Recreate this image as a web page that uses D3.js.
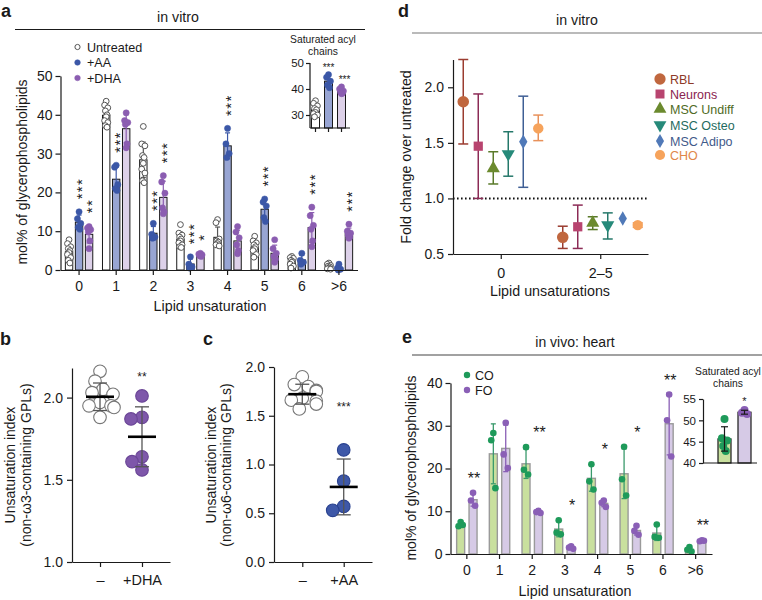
<!DOCTYPE html>
<html><head><meta charset="utf-8">
<script src="https://cdn.jsdelivr.net/npm/d3@7"></script>
<style>
body{margin:0;background:#fff}
svg{display:block}
text{font-family:"Liberation Sans",Arial,Helvetica,sans-serif;fill:#1a1a1a}
</style>
</head><body>
<svg id="chart" width="762" height="600"></svg>
<script>
// ---------------- DATA ----------------
// Panel a (in vitro, mol% of GPLs by unsaturation)
const aCategories = ["0","1","2","3","4","5","6",">6"];
const aSeries = ["Untreated","+AA","+DHA"];
const aUntreated = [
  [7.8,6.8,6.0,5.5,5.0,4.5,4.0,3.2,2.5,1.8],
  [43.5,42.5,41.8,41.0,40.0,39.5,38.5,38.0,37.2,36.8],
  [37.0,32.5,32.0,29.5,29.0,27.5,26.0,25.0,23.0,22.5],
  [11.7,9.5,9.0,8.5,8.0,7.5,7.0,6.5,6.0,5.8],
  [13.0,12.2,8.0,7.5,7.2,6.8,6.5,6.2],
  [8.7,7.5,7.0,6.5,6.0,5.5,5.0,4.0,3.3],
  [3.5,3.2,3.0,2.5,2.2,2.0,1.5,1.0,0.5],
  [1.8,1.5,1.2,1.0,0.8,0.5,0.3,0.2]
];
const aAA = [
  [15.0,13.2,12.0,11.0,10.5],
  [27.0,26.5,22.0,21.0,20.5],
  [12.0,9.2,8.5,8.2],
  [3.4,1.5,0.8,0.5],
  [36.5,32.5,30.0,29.0],
  [18.3,17.5,16.5,13.5,12.5],
  [4.3,2.5,2.0,1.5],
  [1.5,0.5,0.2,0.0]
];
const aDHA = [
  [11.2,10.8,10.4,9.8,7.5,5.5],
  [40.5,38.5,38.0,37.5,32.5,31.5],
  [24.3,22.7,19.8,16.0,15.0,14.5],
  [4.3,4.1,3.9,3.7,3.5],
  [11.2,9.8,8.3,6.5,5.0,4.2],
  [7.8,5.5,4.3,3.5,2.8,2.0],
  [16.2,14.0,11.5,10.5,7.5,6.0],
  [11.8,10.0,9.5,9.0,8.5,8.2]
];
const aStars = [["0","+AA","***"],["0","+DHA","**"],["1","+AA","***"],["2","+AA","***"],["2","+DHA","***"],
  ["3","+AA","***"],["3","+DHA","*"],["4","+AA","***"],["5","+AA","***"],["6","+DHA","***"],[">6","+DHA","***"]];
const aYTicks = [0,10,20,30,40,50];
// inset a: saturated acyl chains
const aSatUntreated = [35.5,34.5,33.5,32.5,32.0,31.0,30.5,30.0,29.3];
const aSatAA = [45.5,44.5,43.0,41.5,40.5];
const aSatDHA = [40.8,40.0,39.2,38.8,38.4,38.2];
const aSatStars = [["+AA","***"],["+DHA","***"]];
const aSatTicks = [30,40,50];

// Panel b
const bCategories = ["–","+DHA"];
const bUntreated = [2.16,2.10,2.05,2.03,2.02,1.97,1.95,1.95,1.94,1.88];
const bDHA = [2.01,1.88,1.87,1.64,1.61,1.56];
const bTicks = [1.0,1.5,2.0];

// Panel c
const cCategories = ["–","+AA"];
const cUntreated = [1.90,1.82,1.80,1.76,1.75,1.68,1.66,1.65,1.62,1.57];
const cAA = [1.15,0.83,0.57,0.53];
const cTicks = [0.0,0.5,1.0,1.5,2.0];

// Panel d
const dCategories = ["0","2–5"];
const dCells = ["RBL","Neurons","MSC Undiff","MSC Osteo","MSC Adipo","CHO"];
const dMean0  = [1.87,1.47,1.27,1.40,1.51,1.63];
const dLow0   = [1.49,1.00,1.13,1.20,1.10,1.52];
const dHigh0  = [2.25,1.94,1.42,1.60,1.92,1.75];
const dMean25 = [0.65,0.745,0.78,0.76,0.82,0.76];
const dLow25  = [0.55,0.55,0.72,0.635,0.815,0.74];
const dHigh25 = [0.75,0.94,0.835,0.87,0.825,0.78];
const dTicks = [0.5,1.0,1.5,2.0];

// Panel e (in vivo heart)
const eCategories = ["0","1","2","3","4","5","6",">6"];
const eSeries = ["CO","FO"];
const eCO = [[7.5,6.5,6.8],[28.3,26.6,15.4],[25.0,19.7,18.6],[7.9,5.0,4.6],[21.0,17.0,15.1],[25.1,17.5,13.7],[6.9,4.0,3.8],[1.6,1.0,0.6]];
const eFO = [[14.3,12.5,11.3],[30.7,23.3,20.1],[10.1,9.8,9.6],[1.8,1.5,1.2],[12.5,12.0,11.0],[6.6,5.4,4.5],[37.3,31.3,22.8],[3.2,3.0,3.1]];
const eStars = [["0","**"],["2","**"],["3","*"],["4","*"],["5","*"],["6","**"],[">6","**"]];
const eTicks = [0,10,20,30,40];
const eSatCO = [50.3,45.8,45.3,44.0,42.8];
const eSatFO = [52.4,51.8,51.5];
const eSatTicks = [40,45,50,55];

// ---------------- HELPERS ----------------
const svg = d3.select("#chart");
const INK = "#1a1a1a";
function styleAxis(g, fs){
  g.selectAll("path,line").attr("stroke",INK).attr("stroke-width",1.2);
  g.selectAll("text").attr("font-size",fs).attr("fill",INK);
}
function panelLabel(t,x,y){ svg.append("text").attr("x",x).attr("y",y).attr("font-size",18).attr("font-weight","bold").text(t); }
function rotLabel(t,x,y,fs){
  svg.append("text").attr("transform",`translate(${x},${y}) rotate(-90)`).attr("text-anchor","middle").attr("font-size",fs).text(t);
}
function jit(i){ return [0,-1.6,1.6,-0.8,0.8][i%5]; }
function errBar(g,x,y1,y2,cap,color,sw){
  g.append("line").attr("x1",x).attr("x2",x).attr("y1",y1).attr("y2",y2).attr("stroke",color).attr("stroke-width",sw);
  [y1,y2].forEach(yy=>g.append("line").attr("x1",x-cap/2).attr("x2",x+cap/2).attr("y1",yy).attr("y2",yy).attr("stroke",color).attr("stroke-width",sw));
}
function swarm(vals, y, r){
  const order = d3.range(vals.length).sort((a,b)=>vals[b]-vals[a]);
  const placed=[], off=new Array(vals.length);
  const cands = d3.range(-14,14.5,1).sort((a,b)=>Math.abs(a)-Math.abs(b)||a-b);
  for(const i of order){
    const yy=y(vals[i]); let best=cands[cands.length-1];
    for(const c of cands){ if(placed.every(p=>Math.hypot(p[0]-c,p[1]-yy)>=1.7*r)){best=c;break;} }
    placed.push([best,yy]); off[i]=best;
  }
  return off;
}

// ---------------- PANEL A ----------------
panelLabel("a",1,16.5);
svg.append("text").attr("x",178).attr("y",22).attr("text-anchor","middle").attr("font-size",14.2).text("in vitro");
svg.append("line").attr("x1",15).attr("x2",365).attr("y1",29.5).attr("y2",29.5).attr("stroke",INK).attr("stroke-width",1.1);

const ax = d3.scaleBand().domain(aCategories).range([60.5,357.5]);
const asub = d3.scalePoint().domain(aSeries).range([-10,10]);
const ay = d3.scaleLinear().domain([0,50]).range([270,76]);
const aData = {"Untreated":aUntreated,"+AA":aAA,"+DHA":aDHA};
const aSty = {
  "Untreated":{bar:"#ffffff",pt:"#ffffff",ps:"#555",err:"#555"},
  "+AA":{bar:"#98a5d3",pt:"#3b57a7",ps:"#3b57a7",err:"#3b57a7"},
  "+DHA":{bar:"#ddd1e9",pt:"#8b5db1",ps:"#8b5db1",err:"#8b5db1"}
};
const gA = svg.append("g");
aSeries.forEach(s=>{
  aCategories.forEach((c,ci)=>{
    const vals = aData[s][ci], m=d3.mean(vals), sd=d3.deviation(vals);
    const cx = ax(c)+ax.bandwidth()/2+asub(s);
    gA.append("rect").attr("x",cx-3.7).attr("width",7.4).attr("y",ay(m)).attr("height",ay(0)-ay(m))
      .attr("fill",aSty[s].bar).attr("stroke",INK).attr("stroke-width",1);
    errBar(gA,cx,ay(Math.max(0,m-sd)),ay(m+sd),5,aSty[s].err,1.2);
  });
});
aSeries.forEach(s=>{
  aCategories.forEach((c,ci)=>{
    const cx = ax(c)+ax.bandwidth()/2+asub(s);
    aData[s][ci].forEach((v,i)=>{
      gA.append("circle").attr("cx",cx+jit(i)).attr("cy",ay(v)).attr("r",s==="Untreated"?2.9:3.1)
        .attr("fill",aSty[s].pt).attr("stroke",aSty[s].ps).attr("stroke-width",s==="Untreated"?1:0.5);
    });
  });
});
// stars (vertically stacked, one rotated text each)
aStars.forEach(([c,s,lab])=>{
  const ci = aCategories.indexOf(c);
  const vals = aData[s][ci];
  const top = Math.min(ay(d3.max(vals)), ay(d3.mean(vals)+d3.deviation(vals)));
  const cx = ax(c)+ax.bandwidth()/2+asub(s);
  gA.append("text").attr("transform",`translate(${cx},${top-12.5}) rotate(-90)`)
    .attr("dy","0.56em").attr("font-size",15).attr("letter-spacing",1.3).text(lab);
});
const gAy = svg.append("g").attr("transform","translate(60.5,0)")
  .call(d3.axisLeft(ay).tickValues(aYTicks).tickSize(5).tickSizeOuter(0).tickPadding(3));
styleAxis(gAy,14);
const gAx = svg.append("g").attr("transform","translate(0,270)")
  .call(d3.axisBottom(ax).tickSize(5).tickSizeOuter(0).tickPadding(6));
styleAxis(gAx,14);
svg.append("text").attr("x",210).attr("y",311).attr("text-anchor","middle").attr("font-size",14.3).text("Lipid unsaturation");
rotLabel("mol% of glycerophospholipids",27,172,14);
// legend a
const aLegY = [47,62.5,78];
aSeries.forEach((s,i)=>{
  svg.append("circle").attr("cx",77.5).attr("cy",aLegY[i]).attr("r",s==="Untreated"?2.6:2.8)
    .attr("fill",aSty[s].pt).attr("stroke",aSty[s].ps).attr("stroke-width",s==="Untreated"?1:0.5);
  svg.append("text").attr("x",87).attr("y",aLegY[i]+4.5).attr("font-size",12.6).text(s);
});
// inset a
svg.append("text").attr("x",323).attr("y",43).attr("text-anchor","middle").attr("font-size",10.3).text("Saturated acyl");
svg.append("text").attr("x",323).attr("y",55).attr("text-anchor","middle").attr("font-size",10.3).text("chains");
const aiy = d3.scaleLinear().domain([25,50]).range([128,63]);
const aix = d3.scalePoint().domain(aSeries).range([315.5,341.5]);
const aSatData = {"Untreated":aSatUntreated,"+AA":aSatAA,"+DHA":aSatDHA};
const gI = svg.append("g");
aSeries.forEach(s=>{
  const vals=aSatData[s], m=d3.mean(vals), sd=d3.deviation(vals), cx=aix(s);
  gI.append("rect").attr("x",cx-4).attr("width",8).attr("y",aiy(m)).attr("height",aiy(25)-aiy(m))
    .attr("fill",aSty[s].bar).attr("stroke",INK).attr("stroke-width",1);
  errBar(gI,cx,aiy(m-sd),aiy(m+sd),5,aSty[s].err,1.1);
});
aSeries.forEach(s=>{
  aSatData[s].forEach((v,i)=>{
    gI.append("circle").attr("cx",aix(s)+jit(i)*1.2).attr("cy",aiy(v)).attr("r",s==="Untreated"?2.9:3.1)
      .attr("fill",aSty[s].pt).attr("stroke",aSty[s].ps).attr("stroke-width",s==="Untreated"?1:0.5);
  });
});
aSatStars.forEach(([s,lab])=>{
  const top = aiy(d3.max(aSatData[s]));
  gI.append("text").attr("x",aix(s)+(s==="+DHA"?3:0)).attr("y",top-4).attr("text-anchor","middle").attr("font-size",10).text(lab);
});
const gIy = svg.append("g").attr("transform","translate(310,0)")
  .call(d3.axisLeft(aiy).tickValues(aSatTicks).tickSize(4).tickSizeOuter(0).tickPadding(2));
styleAxis(gIy,11.5);
gIy.select(".domain").attr("d","M-4,63.5H0V128");
const gIx = svg.append("g").attr("transform","translate(0,128)");
gIx.append("line").attr("x1",310).attr("x2",350).attr("stroke",INK).attr("stroke-width",1.2);
aSeries.forEach(s=>gIx.append("line").attr("x1",aix(s)).attr("x2",aix(s)).attr("y1",0).attr("y2",4).attr("stroke",INK).attr("stroke-width",1.2));

// ---------------- PANEL B ----------------
panelLabel("b",0,345);
const by = d3.scaleLinear().domain([1.0,2.18]).range([562,368]);
const bx = d3.scalePoint().domain(bCategories).range([72,170]).padding(0.667);
function dotPanel(xs, ys, cats, groups, styles, meanW){
  const g = svg.append("g");
  groups.forEach((vals,gi)=>{
    const cx = xs(cats[gi]);
    const offs = swarm(vals, ys, 6.5);
    vals.forEach((v,i)=>{
      g.append("circle").attr("cx",cx+offs[i]).attr("cy",ys(v)).attr("r",6.3)
        .attr("fill",styles[gi].fill).attr("stroke",styles[gi].stroke).attr("stroke-width",1.1);
    });
  });
  groups.forEach((vals,gi)=>{
    const cx = xs(cats[gi]), m=d3.mean(vals), sd=d3.deviation(vals);
    errBar(g,cx,ys(m-sd),ys(m+sd),14,"#555",1.3);
    g.append("line").attr("x1",cx-meanW/2).attr("x2",cx+meanW/2).attr("y1",ys(m)).attr("y2",ys(m)).attr("stroke","#000").attr("stroke-width",2.6);
  });
  return g;
}
dotPanel(bx,by,bCategories,[bUntreated,bDHA],[{fill:"#fff",stroke:"#777"},{fill:"#7e57aa",stroke:"#6a4596"}],28);
svg.append("text").attr("x",bx("+DHA")).attr("y",by(d3.max(bDHA))-15).attr("text-anchor","middle").attr("font-size",12).text("**");
const gBy = svg.append("g").attr("transform","translate(72,0)")
  .call(d3.axisLeft(by).tickValues(bTicks).tickFormat(d3.format(".1f")).tickSize(5).tickSizeOuter(0).tickPadding(4));
styleAxis(gBy,14);
const gBx = svg.append("g").attr("transform","translate(0,562)")
  .call(d3.axisBottom(bx).tickSize(5).tickSizeOuter(0).tickPadding(8));
styleAxis(gBx,14.5);
rotLabel("Unsaturation index",15,465,14);
rotLabel("(non-ω3-containing GPLs)",31,465,14);

// ---------------- PANEL C ----------------
panelLabel("c",203,345);
const cy = d3.scaleLinear().domain([0,2.0]).range([562,367]);
const cx = d3.scalePoint().domain(cCategories).range([274,372]).padding(0.683);
dotPanel(cx,cy,cCategories,[cUntreated,cAA],[{fill:"#fff",stroke:"#777"},{fill:"#3e58a8",stroke:"#2a4290"}],28);
svg.append("text").attr("x",cx("+AA")).attr("y",cy(d3.mean(cUntreated))+17).attr("text-anchor","middle").attr("font-size",12).text("***");
const gCy = svg.append("g").attr("transform","translate(274,0)")
  .call(d3.axisLeft(cy).tickValues(cTicks).tickFormat(d3.format(".1f")).tickSize(5).tickSizeOuter(0).tickPadding(4));
styleAxis(gCy,14);
const gCx = svg.append("g").attr("transform","translate(0,562)")
  .call(d3.axisBottom(cx).tickSize(5).tickSizeOuter(0).tickPadding(8));
styleAxis(gCx,14.5);
rotLabel("Unsaturation index",216,465,14);
rotLabel("(non-ω6-containing GPLs)",231,465,14);

// ---------------- PANEL D ----------------
panelLabel("d",398,16.5);
svg.append("text").attr("x",577).attr("y",25).attr("text-anchor","middle").attr("font-size",14.2).text("in vitro");
svg.append("line").attr("x1",412).attr("x2",762).attr("y1",33).attr("y2",33).attr("stroke","#777").attr("stroke-width",1.1);
const dy = d3.scaleLinear().domain([0.5,2.25]).range([254,59.5]);
const dx = d3.scalePoint().domain(dCategories).range([453,648]).padding(0.48);
const dsub = d3.scalePoint().domain(dCells).range([-37.5,37.5]);
const dMarker = ["#c0673f","#b8446f","#6b8a2e","#268a7a","#5079b8","#f6a35c"];
const dErr = ["#9b3c30","#8c2b56","#5a7a2a","#25786a","#3f5f95","#e8915a"];
const dText = ["#8e3a27","#8a2450","#4f6b25","#1e6b60","#3f5a8a","#e0874a"];
const dSym = [d3.symbolCircle,d3.symbolSquare,d3.symbolTriangle,d3.symbolTriangle,d3.symbolDiamond,d3.symbolCircle];
const dSize = [105,85,75,75,60,85];
const dRot = [0,0,0,180,0,0];
svg.append("line").attr("x1",453).attr("x2",648).attr("y1",dy(1)).attr("y2",dy(1))
  .attr("stroke","#111").attr("stroke-width",2).attr("stroke-dasharray","1.6,2.4");
const gD = svg.append("g");
[[dMean0,dLow0,dHigh0],[dMean25,dLow25,dHigh25]].forEach(([mn,lo,hi],ci)=>{
  dCells.forEach((cell,i)=>{
    const x = dx(dCategories[ci])+dsub(cell);
    if(hi[i]-lo[i]>0.02) errBar(gD,x,dy(lo[i]),dy(hi[i]),10,dErr[i],1.5);
    gD.append("path").attr("d",d3.symbol(dSym[i],dSize[i])())
      .attr("transform",`translate(${x},${dy(mn[i])}) rotate(${dRot[i]})`).attr("fill",dMarker[i]);
  });
});
const gDy = svg.append("g").attr("transform","translate(453,0)")
  .call(d3.axisLeft(dy).tickValues(dTicks).tickFormat(d3.format(".1f")).tickSize(5).tickSizeOuter(0).tickPadding(4));
styleAxis(gDy,14);
const gDx = svg.append("g").attr("transform","translate(0,254)")
  .call(d3.axisBottom(dx).tickSize(5).tickSizeOuter(0).tickPadding(9));
styleAxis(gDx,14.3);
svg.append("text").attr("x",550).attr("y",296).attr("text-anchor","middle").attr("font-size",14.3).text("Lipid unsaturations");
rotLabel("Fold change over untreated",411,157,14.2);
const dLegY = [79,94,109,125,141,155];
dCells.forEach((cell,i)=>{
  svg.append("path").attr("d",d3.symbol(dSym[i],dSize[i]*0.95)())
    .attr("transform",`translate(660,${dLegY[i]}) rotate(${dRot[i]})`).attr("fill",dMarker[i]);
  svg.append("text").attr("x",670).attr("y",dLegY[i]+4.5).attr("font-size",12.5).style("fill",dText[i]).text(cell);
});

// ---------------- PANEL E ----------------
panelLabel("e",402,343);
svg.append("text").attr("x",575).attr("y",347).attr("text-anchor","middle").attr("font-size",14).text("in vivo: heart");
svg.append("line").attr("x1",412).attr("x2",762).attr("y1",355).attr("y2",355).attr("stroke","#444").attr("stroke-width",1.1);
const ex = d3.scaleBand().domain(eCategories).range([450.5,712]);
const esub = d3.scalePoint().domain(eSeries).range([-6.2,6.2]);
const ey = d3.scaleLinear().domain([0,40]).range([554,383]);
const eData = {"CO":eCO,"FO":eFO};
const eSty = {"CO":{bar:"#c9e09e",pt:"#1e9a5a",err:"#3a9a6c"},"FO":{bar:"#d6cae6",pt:"#8a5fb6",err:"#8a5fb6"}};
const gE = svg.append("g");
eSeries.forEach(s=>{
  eCategories.forEach((c,ci)=>{
    const vals=eData[s][ci], m=d3.mean(vals), sd=d3.deviation(vals);
    const x = ex(c)+ex.bandwidth()/2+esub(s);
    gE.append("rect").attr("x",x-4).attr("width",8).attr("y",ey(m)).attr("height",ey(0)-ey(m))
      .attr("fill",eSty[s].bar).attr("stroke","#9a9a9a").attr("stroke-width",1.4);
    errBar(gE,x,ey(Math.max(0,m-sd)),ey(m+sd),5,eSty[s].err,1.3);
  });
});
eSeries.forEach(s=>{
  eCategories.forEach((c,ci)=>{
    const x = ex(c)+ex.bandwidth()/2+esub(s);
    eData[s][ci].forEach((v,i)=>{
      gE.append("circle").attr("cx",x+jit(i)*1.3).attr("cy",ey(v)).attr("r",3.3).attr("fill",eSty[s].pt);
    });
  });
});
eStars.forEach(([c,lab])=>{
  const ci=eCategories.indexOf(c);
  const top = ey(Math.max(d3.max(eCO[ci]),d3.max(eFO[ci])));
  const x = ex(c)+ex.bandwidth()/2+esub("FO")+1;
  gE.append("text").attr("x",x).attr("y",top-17+8).attr("text-anchor","middle").attr("font-size",16).text(lab);
});
const gEy = svg.append("g").attr("transform","translate(450.5,0)")
  .call(d3.axisLeft(ey).tickValues(eTicks).tickSize(5).tickSizeOuter(0).tickPadding(3));
styleAxis(gEy,14);
const gEx = svg.append("g").attr("transform","translate(0,554)")
  .call(d3.axisBottom(ex).tickSize(5).tickSizeOuter(0).tickPadding(6));
styleAxis(gEx,14);
svg.append("text").attr("x",575).attr("y",596).attr("text-anchor","middle").attr("font-size",14.3).text("Lipid unsaturation");
rotLabel("mol% of glycerophospholipids",416,468,14);
[["CO",375],["FO",390]].forEach(([s,yy])=>{
  svg.append("circle").attr("cx",467).attr("cy",yy).attr("r",3.2).attr("fill",eSty[s].pt);
  svg.append("text").attr("x",475).attr("y",yy+4.5).attr("font-size",12.5).text(s);
});
// inset e
svg.append("text").attr("x",728).attr("y",375).attr("text-anchor","middle").attr("font-size",10.3).text("Saturated acyl");
svg.append("text").attr("x",728).attr("y",387).attr("text-anchor","middle").attr("font-size",10.3).text("chains");
const eiy = d3.scaleLinear().domain([40,55]).range([463,399]);
const eix = d3.scalePoint().domain(eSeries).range([724.5,744.5]);
const eSat = {"CO":eSatCO,"FO":eSatFO};
const gEI = svg.append("g");
eSeries.forEach(s=>{
  const vals=eSat[s], m=d3.mean(vals), x=eix(s);
  gEI.append("rect").attr("x",x-6.5).attr("width",13).attr("y",eiy(m)).attr("height",eiy(40)-eiy(m))
    .attr("fill",eSty[s].bar).attr("stroke",INK).attr("stroke-width",1.2);
});
eSeries.forEach(s=>{
  eSat[s].forEach((v,i)=>{
    gEI.append("circle").attr("cx",eix(s)+jit(i)*1.6).attr("cy",eiy(v)).attr("r",4).attr("fill",eSty[s].pt);
  });
});
eSeries.forEach(s=>{
  const vals=eSat[s], m=d3.mean(vals), sd=d3.deviation(vals);
  errBar(gEI,eix(s),eiy(m-sd),eiy(m+sd),7,INK,1.2);
});
gEI.append("text").attr("x",eix("FO")).attr("y",eiy(d3.max(eSatFO))-5).attr("text-anchor","middle").attr("font-size",11).text("*");
const gEIy = svg.append("g").attr("transform","translate(703,0)")
  .call(d3.axisLeft(eiy).tickValues(eSatTicks).tickSize(4).tickSizeOuter(0).tickPadding(3));
styleAxis(gEIy,11.5);
svg.append("line").attr("x1",703).attr("x2",757).attr("y1",463).attr("y2",463).attr("stroke",INK).attr("stroke-width",1.2);
</script>
</body></html>
